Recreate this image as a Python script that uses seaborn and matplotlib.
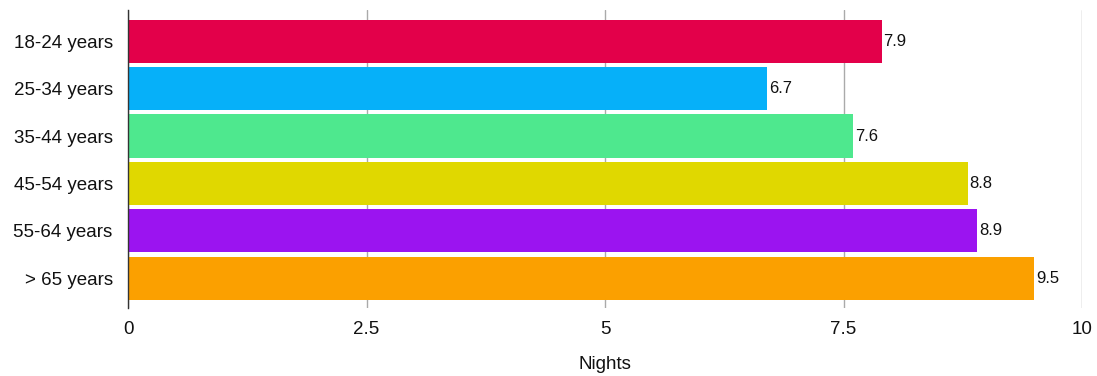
import matplotlib
matplotlib.use("Agg")
import matplotlib.pyplot as plt
import seaborn as sns
import pandas as pd

age_groups = ["18-24 years", "25-34 years", "35-44 years", "45-54 years", "55-64 years", "> 65 years"]
nights = [7.9, 6.7, 7.6, 8.8, 8.9, 9.5]
bar_colors = ["#E3004A", "#06B0F9", "#4EE88E", "#E0D800", "#9B14F0", "#FBA000"]
x_ticks = [0, 2.5, 5, 7.5, 10]
x_tick_labels = ["0", "2.5", "5", "7.5", "10"]

sns.set_theme(style="white")
plt.rcParams["font.family"] = ["Liberation Sans", "DejaVu Sans"]

df = pd.DataFrame({"age": age_groups, "nights": nights})

fig = plt.figure(figsize=(10.97, 3.76), dpi=100)
ax = fig.add_axes([128 / 1097, 1 - 308 / 376, (1082 - 128) / 1097, 298 / 376])

sns.barplot(data=df, y="age", x="nights", hue="age", palette=bar_colors,
            order=age_groups, hue_order=age_groups, width=0.91,
            legend=False, ax=ax, saturation=1, linewidth=0, zorder=3)

ax.set_xlim(0, 10)
ax.set_ylim(5.63, -0.66)
ax.set_xticks(x_ticks)
ax.set_xticklabels(x_tick_labels)
ax.xaxis.grid(True, color="#aaaaaa", linewidth=1.0, zorder=0)
ax.yaxis.grid(False)
ax.set_axisbelow(True)

for side in ["top", "right", "bottom"]:
    ax.spines[side].set_visible(False)
ax.spines["left"].set_color("#333333")
ax.spines["left"].set_linewidth(1.0)
ax.spines["left"].set_zorder(5)

ax.tick_params(axis="x", length=0, pad=9, labelsize=13.5, labelcolor="#111111")
ax.tick_params(axis="y", length=0, pad=11, labelsize=13.5, labelcolor="#111111")
ax.set_ylabel("")
ax.set_xlabel("Nights", fontsize=13.5, color="#111111", labelpad=13)

for i, v in enumerate(nights):
    ax.text(v + 0.02, i, f"{v}", va="center", ha="left", fontsize=12, color="#111111", zorder=4)

fig.savefig("out.png", dpi=100)
